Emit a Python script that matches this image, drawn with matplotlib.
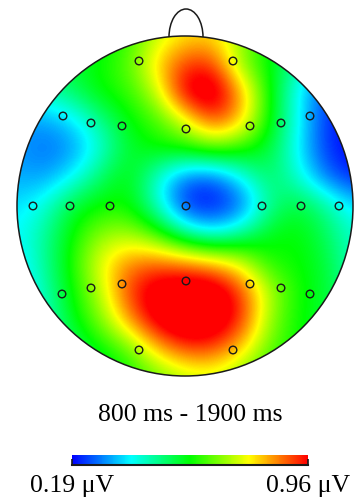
import numpy as np
import matplotlib
matplotlib.use("Agg")
import matplotlib.pyplot as plt
from matplotlib.colors import LinearSegmentedColormap
from matplotlib.patches import Ellipse, Arc

# scalp amplitude (uV) read on a 13x13 grid over the head box, top row first
grid_x = np.linspace(17, 353, 13)
grid_y = np.linspace(36, 376, 13)
amp = np.array([
    [0.46, 0.50, 0.54, 0.56, 0.61, 0.72, 0.78, 0.79, 0.70, 0.58, 0.50, 0.42, 0.34],
    [0.50, 0.51, 0.54, 0.58, 0.64, 0.80, 0.92, 0.92, 0.67, 0.57, 0.46, 0.33, 0.25],
    [0.42, 0.44, 0.50, 0.58, 0.61, 0.72, 1.00, 1.05, 0.84, 0.59, 0.38, 0.25, 0.19],
    [0.31, 0.31, 0.36, 0.47, 0.57, 0.62, 0.74, 0.92, 0.82, 0.58, 0.40, 0.23, 0.19],
    [0.31, 0.27, 0.30, 0.41, 0.54, 0.58, 0.59, 0.64, 0.60, 0.54, 0.38, 0.23, 0.19],
    [0.32, 0.31, 0.38, 0.50, 0.58, 0.41, 0.27, 0.25, 0.38, 0.51, 0.42, 0.28, 0.21],
    [0.36, 0.41, 0.54, 0.58, 0.58, 0.42, 0.21, 0.19, 0.25, 0.46, 0.54, 0.47, 0.36],
    [0.38, 0.46, 0.58, 0.68, 0.70, 0.62, 0.46, 0.38, 0.46, 0.56, 0.58, 0.51, 0.42],
    [0.36, 0.46, 0.60, 0.76, 0.86, 0.88, 0.86, 0.82, 0.74, 0.59, 0.58, 0.54, 0.42],
    [0.34, 0.44, 0.58, 0.72, 0.92, 1.02, 1.05, 1.04, 0.92, 0.71, 0.59, 0.54, 0.46],
    [0.34, 0.42, 0.56, 0.67, 0.85, 1.01, 1.08, 1.05, 0.94, 0.69, 0.58, 0.54, 0.50],
    [0.34, 0.42, 0.50, 0.58, 0.65, 0.82, 0.92, 0.92, 0.81, 0.65, 0.58, 0.54, 0.50],
    [0.38, 0.42, 0.48, 0.51, 0.58, 0.65, 0.71, 0.73, 0.67, 0.59, 0.54, 0.51, 0.50],
])

# electrode positions (pixels)
elec_x = [139, 233, 63, 91, 122, 186, 250, 281, 310, 33, 70, 110, 186, 262, 301, 339,
          62, 91, 122, 186, 250, 281, 310, 139, 233]
elec_y = [61, 61, 116, 123, 126, 129, 126, 123, 116, 206, 206, 206, 206, 206, 206, 206,
          294, 288, 284, 281, 284, 288, 294, 350, 350]

vmin, vmax = 0.19, 0.96
title = "800 ms - 1900 ms"
cbar_labels = ["0.19 \u03bcV", "0.96 \u03bcV"]

cmap = LinearSegmentedColormap.from_list(
    "bcgyr", ["#0000ff", "#00ffff", "#00ff00", "#ffff00", "#ff0000"])
serif = "Liberation Serif"

fig = plt.figure(figsize=(3.54, 5.01), dpi=100)
ax = fig.add_axes([0, 0, 1, 1])

hx = (grid_x[1] - grid_x[0]) / 2
hy = (grid_y[1] - grid_y[0]) / 2
im = ax.imshow(amp, cmap=cmap, vmin=vmin, vmax=vmax, origin="upper",
               extent=(grid_x[0] - hx, grid_x[-1] + hx, grid_y[-1] + hy, grid_y[0] - hy),
               interpolation="bicubic", aspect="auto")

head = Ellipse((185, 206), 336, 340, fill=False, ec="#1a1a1a", lw=1.1, zorder=3)
ax.add_patch(head)
im.set_clip_path(head)
nose = Arc((186, 37), 34, 56, theta1=180, theta2=360, ec="#1a1a1a", lw=1.1)
ax.add_patch(nose)

ax.scatter(elec_x, elec_y, s=30, facecolors="none", edgecolors="#1a1a1a",
           linewidths=1.0, zorder=4)

ax.text(190, 421, title, ha="center", va="baseline", family=serif, fontsize=18.5)

ax.set_xlim(0, 354)
ax.set_ylim(501, 0)
ax.axis("off")

cax = fig.add_axes([72 / 354, (501 - 465) / 501, 236 / 354, 10 / 501])
cb = fig.colorbar(im, cax=cax, orientation="horizontal")
cb.outline.set_visible(False)
cax.axhline(0, color="#1a1a1a", lw=1.5, clip_on=False)
cb.set_ticks([vmin, vmax])
cb.set_ticklabels(cbar_labels)
cax.tick_params(axis="x", direction="in", length=4, width=1.2, color="#1a1a1a",
                pad=7, labelsize=18.5, labelfontfamily=serif)

fig.savefig("out.png", dpi=100)
